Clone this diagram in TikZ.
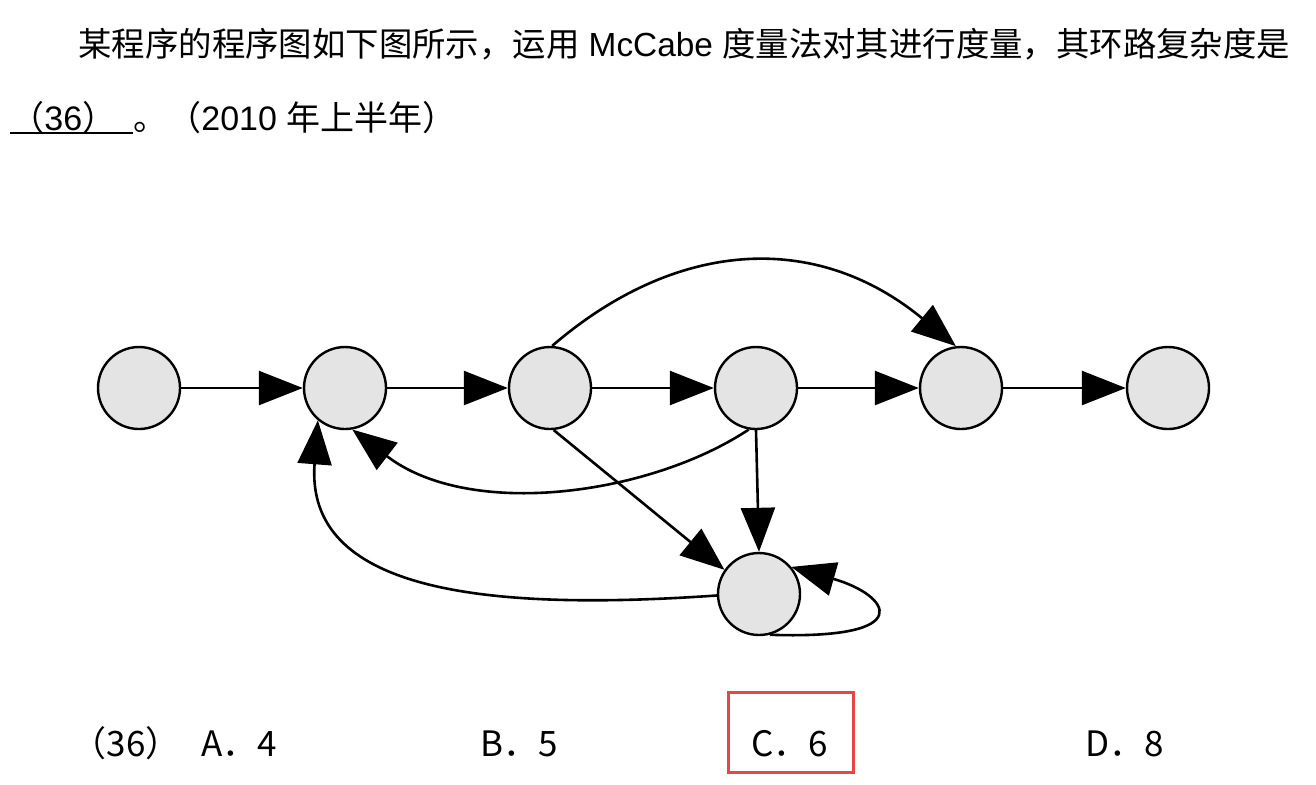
\documentclass[tikz,border=0pt]{standalone}
\usepackage{fontspec}
\setmainfont{Liberation Sans}
\newfontfamily\cjk{Noto Sans CJK SC}
\usetikzlibrary{arrows.meta}
\definecolor{nodegray}{HTML}{E4E4E4}
\definecolor{boxred}{HTML}{E84545}
\begin{document}
\begin{tikzpicture}[x=0.5pt,y=-0.5pt,
  vert/.style={circle,draw=black,line width=1.2pt,fill=nodegray,minimum size=41pt,inner sep=0pt},
  edge/.style={line width=1.3pt,-{Triangle[length=22pt,width=17pt]}},
  txt/.style={inner sep=0pt,font=\fontsize{16.7pt}{20pt}\selectfont},
  opt/.style={inner sep=0pt,anchor=base,font=\cjk\fontsize{17.5pt}{20pt}\selectfont}]
\useasboundingbox (0,0) rectangle (1316,784);
% question text
\node[txt,anchor=base west] (q1) at (78,56) {{\cjk 某程序的程序图如下图所示，运用} McCabe {\cjk 度量法对其进行度量，其环路复杂度是}};
\node[txt,anchor=base west,font=\fontsize{17pt}{20pt}\selectfont] (q2a) at (10,130) {{\cjk （}36{\cjk ）}};
\node[txt,anchor=base west,font=\fontsize{17pt}{20pt}\selectfont] (q2b) at (133,130) {{\cjk 。（}2010 {\cjk 年上半年）}};
\draw[line width=1.2pt] (10,133) -- (133,133);
% vertices
\node[vert] (n1) at (139,388) {};
\node[vert] (n2) at (345,388) {};
\node[vert] (n3) at (550,388) {};
\node[vert] (n4) at (756,388) {};
\node[vert] (n5) at (961,388) {};
\node[vert] (n6) at (1168,388) {};
\node[vert] (n7) at (759,594) {};
% straight edges
\draw[edge] (n1) -- (n2);
\draw[edge] (n2) -- (n3);
\draw[edge] (n3) -- (n4);
\draw[edge] (n4) -- (n5);
\draw[edge] (n5) -- (n6);
\draw[edge] (n4.south) -- (n7.north);
\draw[edge] (n3.-85) -- (n7.145);
% curved edges
\draw[edge] (n3.87) .. controls (675,240) and (815,230) .. (n5.97);
\draw[edge] (n4.-100) .. controls (650,495) and (470,520) .. (n2.-80);
\draw[edge] (n7.182) .. controls (480,612) and (305,590) .. (n2.-130);
\draw[edge] (n7.-75) .. controls (920,640) and (890,595) .. (n7.40);
% options
\node[opt] (oa0) at (126,756) {（36）};
\node[opt] (oa) at (239,756) {A．4};
\node[opt] (ob) at (519,756) {B．5};
\node[opt] (oc) at (790,756) {C．6};
\node[opt] (od) at (1125,756) {D．8};
\draw[boxred,line width=1.5pt] (728,692) rectangle (853,772);
\end{tikzpicture}
\end{document}
